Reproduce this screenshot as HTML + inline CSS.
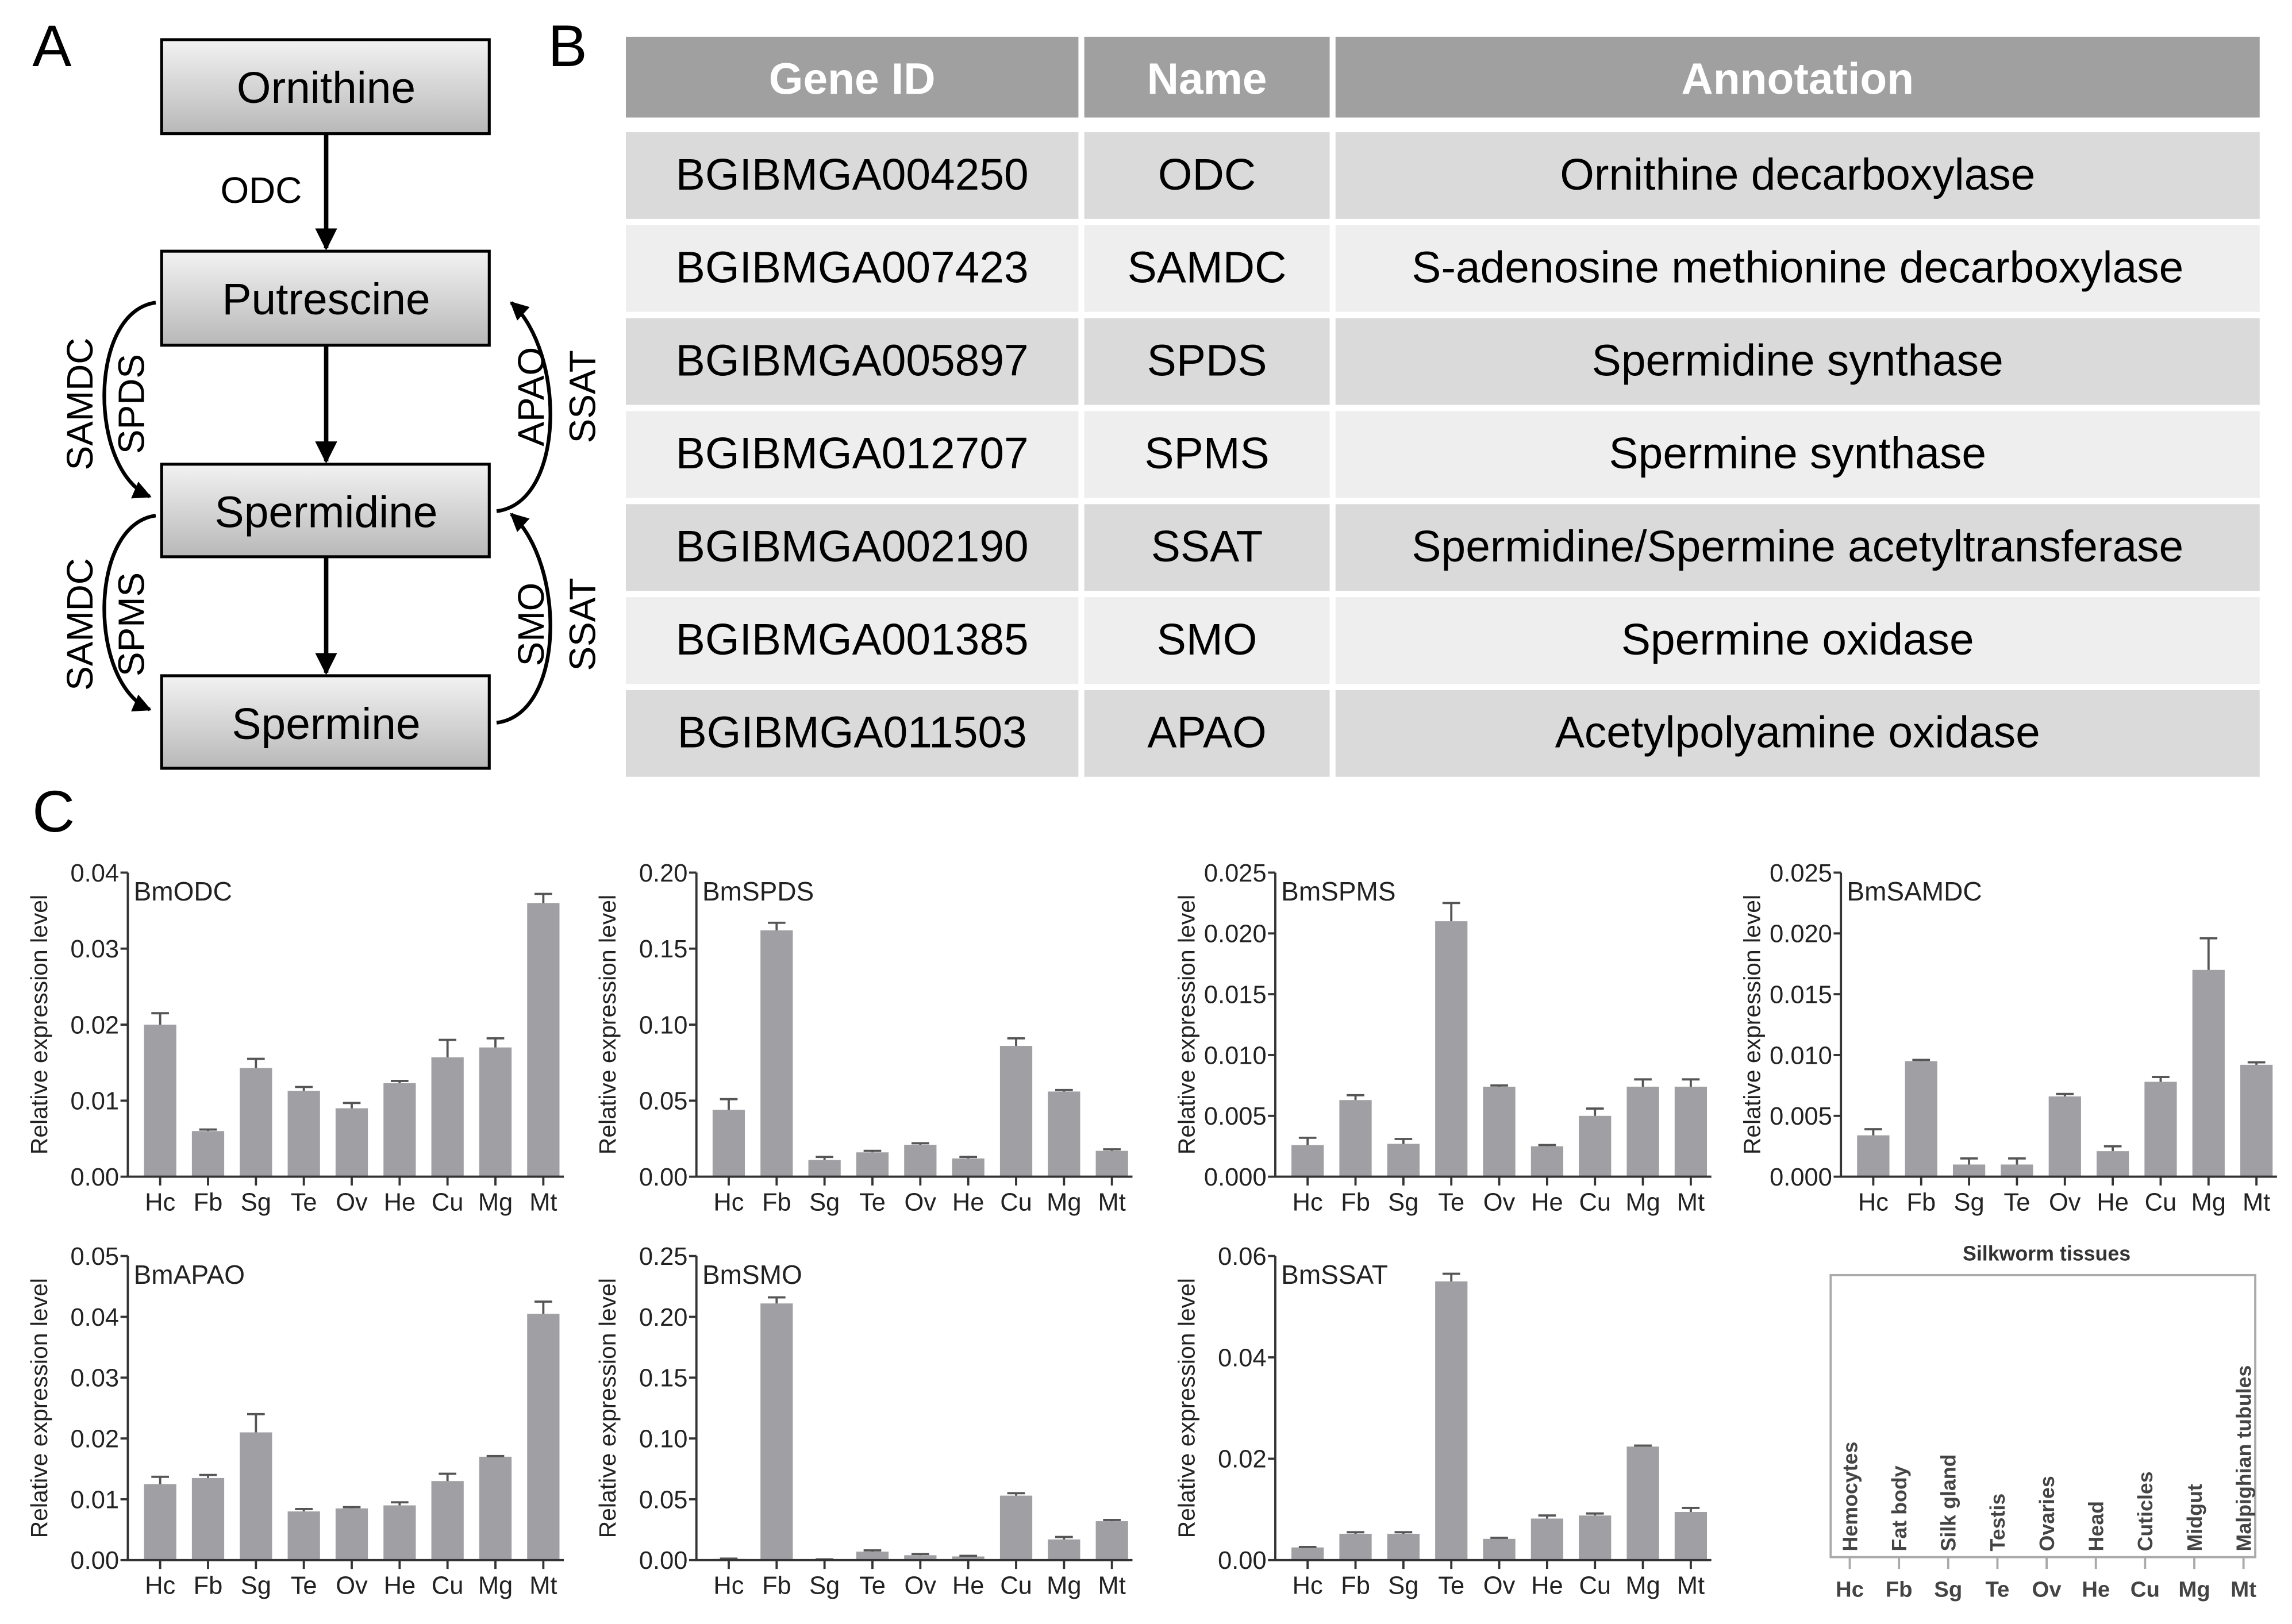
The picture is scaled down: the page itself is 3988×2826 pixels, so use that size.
<!DOCTYPE html>
<html><head><meta charset="utf-8"><style>
html,body{margin:0;padding:0;background:#fff}
svg{display:block;font-family:"Liberation Sans",sans-serif}
</style></head><body>
<svg id="fig" width="3988" height="2826" viewBox="0 0 1560 1105.5" preserveAspectRatio="none" xmlns="http://www.w3.org/2000/svg">
<defs>
<linearGradient id="bx" x1="0" y1="0" x2="0" y2="1"><stop offset="0" stop-color="#f2f2f2"/><stop offset="1" stop-color="#b8b8b8"/></linearGradient>
<marker id="ah" viewBox="0 0 10 10" refX="9" refY="5" markerWidth="5" markerHeight="5" orient="auto"><path d="M0,0 L10,5 L0,10 z" fill="#000"/></marker>
</defs>
<g>
<text x="22" y="45" font-size="40">A</text>
<g><rect x="110" y="27" width="223" height="64" fill="url(#bx)" stroke="#000" stroke-width="2"/><text x="222" y="70" font-size="30" text-anchor="middle">Ornithine</text></g>
<g><rect x="110" y="171" width="223" height="64" fill="url(#bx)" stroke="#000" stroke-width="2"/><text x="222" y="214" font-size="30" text-anchor="middle">Putrescine</text></g>
<g><rect x="110" y="316" width="223" height="63" fill="url(#bx)" stroke="#000" stroke-width="2"/><text x="222" y="359" font-size="30" text-anchor="middle">Spermidine</text></g>
<g><rect x="110" y="460" width="223" height="63" fill="url(#bx)" stroke="#000" stroke-width="2"/><text x="222" y="503" font-size="30" text-anchor="middle">Spermine</text></g>
<g stroke="#000" stroke-width="3" fill="none">
<line x1="222" y1="91" x2="222" y2="169" marker-end="url(#ah)"/>
<line x1="222" y1="235" x2="222" y2="314" marker-end="url(#ah)"/>
<line x1="222" y1="379" x2="222" y2="458" marker-end="url(#ah)"/>
<path d="M106,206 C60,212 60,320 102,338" stroke-width="2.5" marker-end="url(#ah)"/>
<path d="M106,351 C60,357 60,465 102,483" stroke-width="2.5" marker-end="url(#ah)"/>
<path d="M338,348 C385,342 385,240 348,206" stroke-width="2.5" marker-end="url(#ah)"/>
<path d="M338,492 C385,486 385,384 348,350" stroke-width="2.5" marker-end="url(#ah)"/>
</g>
<text x="150" y="138" font-size="25">ODC</text>
<g font-size="25" text-anchor="middle">
<text transform="translate(63,275) rotate(-90)">SAMDC</text>
<text transform="translate(98,275) rotate(-90)">SPDS</text>
<text transform="translate(63,425) rotate(-90)">SAMDC</text>
<text transform="translate(98,425) rotate(-90)">SPMS</text>
<text transform="translate(370,270) rotate(-90)">APAO</text>
<text transform="translate(405,270) rotate(-90)">SSAT</text>
<text transform="translate(370,425) rotate(-90)">SMO</text>
<text transform="translate(405,425) rotate(-90)">SSAT</text>
</g>
</g>
<g id="tbl">
<text x="373" y="45" font-size="40">B</text>
</g>
<g id="charts">
<text x="22" y="566" font-size="40">C</text>
</g>
<g id="legend"></g>
</svg>
<script>
const NS="http://www.w3.org/2000/svg";
function mk(p,tag,attrs,txt){const e=document.createElementNS(NS,tag);for(const k in attrs)e.setAttribute(k,attrs[k]);if(txt!==undefined)e.textContent=txt;p.appendChild(e);return e;}

const tableHeaders=["Gene ID","Name","Annotation"];
const geneIds=["BGIBMGA004250","BGIBMGA007423","BGIBMGA005897","BGIBMGA012707","BGIBMGA002190","BGIBMGA001385","BGIBMGA011503"];
const geneNames=["ODC","SAMDC","SPDS","SPMS","SSAT","SMO","APAO"];
const geneAnnot=["Ornithine decarboxylase","S-adenosine methionine decarboxylase","Spermidine synthase","Spermine synthase","Spermidine/Spermine acetyltransferase","Spermine oxidase","Acetylpolyamine oxidase"];
const tbl=document.getElementById('tbl');
const colX=[426,738,909],colW=[308,167,629];
tableHeaders.forEach((h,i)=>{
  const g=mk(tbl,'g',{});
  
  
  mk(g,'rect',{x:colX[i],y:25,width:colW[i],height:55,fill:'#a0a0a0'});
  mk(g,'text',{x:colX[i]+colW[i]/2,y:64,'font-size':30,'font-weight':'bold',fill:'#fff','text-anchor':'middle'},h);
});
geneIds.forEach((id,r)=>{
  const y=90+r*63.3;
  const row=mk(tbl,'g',{});
  
  
  const vals=[id,geneNames[r],geneAnnot[r]];
  vals.forEach((v,i)=>{
    mk(row,'rect',{x:colX[i],y:y,width:colW[i],height:59,fill:r%2?'#eeeeee':'#dadada'});
    mk(row,'text',{x:colX[i]+colW[i]/2,y:y+39,'font-size':30,'text-anchor':'middle'},v);
  });
});

const categories=["Hc","Fb","Sg","Te","Ov","He","Cu","Mg","Mt"];
const odcVals=[0.020,0.006,0.0143,0.0113,0.009,0.0123,0.0157,0.017,0.036];
const odcErr=[0.0215,0.0062,0.0155,0.0118,0.0097,0.0126,0.018,0.0182,0.0372];
const odcTicks=["0.00","0.01","0.02","0.03","0.04"];
const spdsVals=[0.044,0.162,0.011,0.016,0.021,0.012,0.086,0.056,0.017];
const spdsErr=[0.051,0.167,0.013,0.017,0.022,0.013,0.091,0.057,0.018];
const spdsTicks=["0.00","0.05","0.10","0.15","0.20"];
const spmsVals=[0.0026,0.0063,0.0027,0.021,0.0074,0.0025,0.005,0.0074,0.0074];
const spmsErr=[0.0032,0.0067,0.0031,0.0225,0.0075,0.0026,0.0056,0.008,0.008];
const spmsTicks=["0.000","0.005","0.010","0.015","0.020","0.025"];
const samdcVals=[0.0034,0.0095,0.001,0.001,0.0066,0.0021,0.0078,0.017,0.0092];
const samdcErr=[0.0039,0.0096,0.0015,0.0015,0.0068,0.0025,0.0082,0.0196,0.0094];
const samdcTicks=["0.000","0.005","0.010","0.015","0.020","0.025"];
const apaoVals=[0.0125,0.0135,0.021,0.008,0.0085,0.009,0.013,0.017,0.0405];
const apaoErr=[0.0137,0.014,0.024,0.0084,0.0087,0.0095,0.0142,0.0171,0.0425];
const apaoTicks=["0.00","0.01","0.02","0.03","0.04","0.05"];
const smoVals=[0.001,0.211,0.0005,0.007,0.004,0.003,0.053,0.017,0.032];
const smoErr=[0.0012,0.216,0.0006,0.008,0.005,0.0035,0.055,0.019,0.033];
const smoTicks=["0.00","0.05","0.10","0.15","0.20","0.25"];
const ssatVals=[0.0025,0.0052,0.0052,0.055,0.0042,0.0082,0.0088,0.0224,0.0095];
const ssatErr=[0.0026,0.0055,0.0055,0.0565,0.0044,0.0088,0.0092,0.0226,0.0103];
const ssatTicks=["0.00","0.02","0.04","0.06"];

const panels=[
 {title:"BmODC",vals:odcVals,err:odcErr,ticks:odcTicks,x0:87,y0:801},
 {title:"BmSPDS",vals:spdsVals,err:spdsErr,ticks:spdsTicks,x0:474,y0:801},
 {title:"BmSPMS",vals:spmsVals,err:spmsErr,ticks:spmsTicks,x0:868,y0:801},
 {title:"BmSAMDC",vals:samdcVals,err:samdcErr,ticks:samdcTicks,x0:1253,y0:801},
 {title:"BmAPAO",vals:apaoVals,err:apaoErr,ticks:apaoTicks,x0:87,y0:1062},
 {title:"BmSMO",vals:smoVals,err:smoErr,ticks:smoTicks,x0:474,y0:1062},
 {title:"BmSSAT",vals:ssatVals,err:ssatErr,ticks:ssatTicks,x0:868,y0:1062}
];
const charts=document.getElementById('charts');
const H=207,STEP=32.6,BW=22;
panels.forEach(p=>{
  const g=mk(charts,'g',{});
  
  
  const tmin=parseFloat(p.ticks[0]),tmax=parseFloat(p.ticks[p.ticks.length-1]);
  const ys=v=>p.y0-(v-tmin)/(tmax-tmin)*H;
  const xs=i=>p.x0+22+i*STEP;
  p.vals.forEach((v,i)=>{
    const b=mk(g,'rect',{x:xs(i)-BW/2,y:ys(v),width:BW,height:p.y0-ys(v),fill:'#a0a0a4'});
    
    
    const ey=ys(p.err[i]);
    const e=mk(g,'path',{d:`M${xs(i)},${ys(v)} V${ey} M${xs(i)-6},${ey} H${xs(i)+6}`,stroke:'#555',fill:'none','stroke-width':1.5});
    
    
  });
  const xend=p.x0+22+8*STEP+14;
  const ax=mk(g,'path',{d:`M${p.x0},${p.y0-H} V${p.y0} H${xend}`,stroke:'#333',fill:'none','stroke-width':1.5});
  
  
  p.ticks.forEach(t=>{
    const y=ys(parseFloat(t));
    mk(g,'line',{x1:p.x0-5,x2:p.x0,y1:y,y2:y,stroke:'#333','stroke-width':1.5});
    const tl=mk(g,'text',{x:p.x0-6,y:y+6,'font-size':17,'text-anchor':'end',fill:'#222'},t);
    
    
  });
  categories.forEach((c,i)=>{
    mk(g,'line',{x1:xs(i),x2:xs(i),y1:p.y0,y2:p.y0+6,stroke:'#333','stroke-width':1.5});
    const cl=mk(g,'text',{x:xs(i),y:p.y0+23,'font-size':17,'text-anchor':'middle',fill:'#222'},c);
    
    
  });
  const tt=mk(g,'text',{x:p.x0+4,y:p.y0-H+19,'font-size':18,fill:'#222'},p.title);
  
  
  const yl=mk(g,'text',{transform:`translate(${p.x0-55},${p.y0-H/2}) rotate(-90)`,'font-size':16,'text-anchor':'middle',fill:'#222'},'Relative expression level');
  
  
});

const tissueNames=["Hemocytes","Fat body","Silk gland","Testis","Ovaries","Head","Cuticles","Midgut","Malpighian tubules"];
const lg=document.getElementById('legend');
mk(lg,'text',{x:1393,y:858,'font-size':14,'font-weight':'bold','text-anchor':'middle',fill:'#333'},'Silkworm tissues');
mk(lg,'rect',{x:1246,y:868,width:289,height:192,fill:'none',stroke:'#aaa','stroke-width':1.5});
categories.forEach((c,i)=>{
  const x=1259+i*33.5;
  mk(lg,'line',{x1:x,x2:x,y1:1060,y2:1068,stroke:'#aaa','stroke-width':1.5});
  const t=mk(lg,'text',{x:x,y:1087,'font-size':15,'font-weight':'bold','text-anchor':'middle',fill:'#444'},c);
  
  
  const n=mk(lg,'text',{transform:`translate(${x+5},1056) rotate(-90)`,'font-size':14,'font-weight':'bold',fill:'#444'},tissueNames[i]);
  
  
});
</script>
</body></html>
